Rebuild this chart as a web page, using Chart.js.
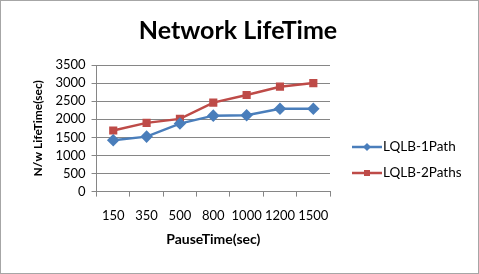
<!DOCTYPE html>
<html>
<head>
<meta charset="utf-8">
<script src="https://cdn.jsdelivr.net/npm/chart.js@4.4.0/dist/chart.umd.min.js"></script>
<style>
    html, body { margin:0; padding:0; background:#fff; }
    #wrap { width:479px; height:274px; box-sizing:border-box; border:1px solid #a6a6a6; }
    canvas { display:block; }
</style>
</head>
<body>
<div id="wrap"><canvas id="lifeChart" width="477" height="272"></canvas></div>
<script>

// DATA
const pauseTimes = ["150", "350", "500", "800", "1000", "1200", "1500"];
const onePath = [1420, 1520, 1880, 2100, 2110, 2290, 2290];
const twoPaths = [1690, 1900, 2010, 2460, 2670, 2900, 3000];
const seriesNames = ["LQLB-1Path", "LQLB-2Paths"];
const seriesColors = ["#4a7ebb", "#be4b48"];
const chartTitle = "Network LifeTime";

const fontFamily = "Lato, 'Open Sans', sans-serif";


// TITLE + LEGEND (drawn by hand so they sit where the original has them)
const sideParts = {
    id: "sideParts",
    afterDraw(chart){
        const ctx = chart.ctx;

        ctx.save();
        ctx.fillStyle = "#000";
        ctx.font = "bold 25px " + fontFamily;
        ctx.textAlign = "center";
        ctx.textBaseline = "middle";
        ctx.fillText(chartTitle, 237, 30);
        ctx.restore();

        const x0 = 351;
        const rows = [146, 172];

        chart.data.datasets.forEach((ds, i) => {
            const y = rows[i];
            ctx.save();
            ctx.strokeStyle = ds.borderColor;
            ctx.lineWidth = 2.5;
            ctx.beginPath();
            ctx.moveTo(x0, y);
            ctx.lineTo(x0 + 30, y);
            ctx.stroke();

            ctx.fillStyle = ds.borderColor;
            ctx.beginPath();
            if(ds.pointStyle === "rectRot"){
                ctx.moveTo(x0 + 15, y - 4);
                ctx.lineTo(x0 + 19, y);
                ctx.lineTo(x0 + 15, y + 4);
                ctx.lineTo(x0 + 11, y);
            }else{
                ctx.rect(x0 + 12, y - 3, 6, 6);
            }
            ctx.fill();

            ctx.fillStyle = "#000";
            ctx.font = "13.5px " + fontFamily;
            ctx.textBaseline = "middle";
            ctx.fillText(ds.label, x0 + 31, y);
            ctx.restore();
        });
    }
};


new Chart(document.getElementById("lifeChart"), {
    type: "line",
    data: {
        labels: pauseTimes,
        datasets: [
            {
                label: seriesNames[0],
                data: onePath,
                borderColor: seriesColors[0],
                backgroundColor: seriesColors[0],
                borderWidth: 2.5,
                pointStyle: "rectRot",
                pointRadius: 4.5,
                tension: 0
            },
            {
                label: seriesNames[1],
                data: twoPaths,
                borderColor: seriesColors[1],
                backgroundColor: seriesColors[1],
                borderWidth: 2.5,
                pointStyle: "rect",
                pointRadius: 4,
                tension: 0
            }
        ]
    },
    options: {
        responsive: false,
        animation: false,
        layout: { padding: { top: 64, right: 148, bottom: 21, left: 26 } },
        plugins: {
            legend: { display: false },
            tooltip: { enabled: false }
        },
        scales: {
            x: {
                offset: true,
                grid: { offset: true, drawOnChartArea: false, tickLength: 5, color: "#868686" },
                border: { color: "#868686" },
                ticks: { color: "#000", font: { family: fontFamily, size: 13 }, padding: 11, maxRotation: 0, autoSkip: false },
                title: {
                    display: true,
                    text: "PauseTime(sec)",
                    color: "#000",
                    font: { family: fontFamily, size: 14, weight: "bold" },
                    padding: { top: -3 }
                }
            },
            y: {
                min: 0,
                max: 3500,
                ticks: {
                    stepSize: 500,
                    autoSkip: false,
                    color: "#000",
                    font: { family: fontFamily, size: 13 },
                    padding: 6,
                    callback: v => String(v)
                },
                grid: { color: "#868686", tickLength: 5 },
                border: { color: "#868686" },
                title: {
                    display: true,
                    text: "N/w LifeTime(sec)",
                    color: "#000",
                    font: { family: fontFamily, size: 12, weight: "bold" },
                    padding: { bottom: 4 }
                }
            }
        }
    },
    plugins: [sideParts]
});

</script>
</body>
</html>
